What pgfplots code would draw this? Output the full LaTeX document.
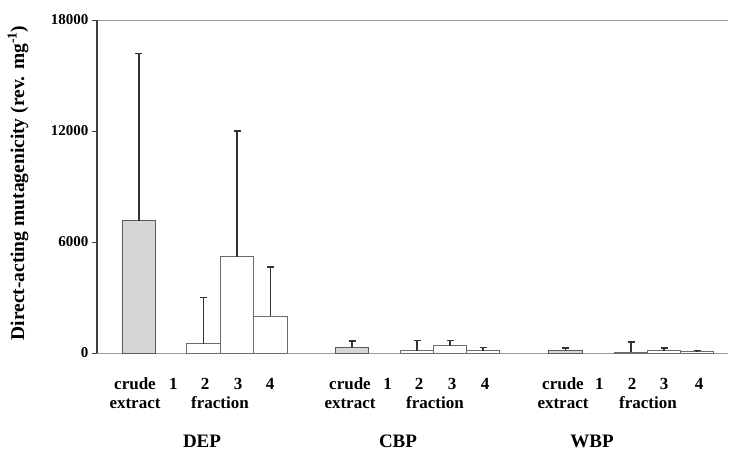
\documentclass[border=0pt]{standalone}
\usepackage{fontspec}
\setmainfont{Liberation Serif}
\usepackage{pgfplots}
\pgfplotsset{compat=1.18}
\usepackage{pgfplotstable}
\definecolor{edge}{gray}{0.35}
\definecolor{fedge}{gray}{0.42}
\definecolor{errc}{gray}{0.2}
\definecolor{crudefill}{gray}{0.84}
\definecolor{base}{gray}{0.6}

% crude extracts
\pgfplotstableread{
x y e
139 7150 9050
352 300 350
565.5 120 140
}\crudetab
% fractions 2,3,4 (fraction 1: 0)
\pgfplotstableread{
x y e
203.5 500 2500
237 5200 6800
270.5 2000 2650
417 130 550
450 400 280
483 110 180
631 40 560
664 110 150
697 60 70
}\fractab

\begin{document}
\begin{tikzpicture}
\begin{axis}[
  name=ax,
  scale only axis, width=631pt, height=333pt,
  xmin=97, xmax=728, ymin=0, ymax=18000,
  axis x line=box, axis y line=left, axis line style={-},
  x axis line style={base, line width=0.9pt},
  y axis line style={black!75, line width=1.3pt},
  ytick={0,6000,12000,18000},
  scaled y ticks=false,
  tick align=outside, ytick pos=left,
  major tick length=5pt,
  ytick style={black!75, line width=1pt},
  xtick={135,173.3,205,238,270,350,387.7,419,452,485,563,599.3,632,664,699},
  xticklabels={crude,1,2,3,4,crude,1,2,3,4,crude,1,2,3,4},
  xtick style={draw=none},
  xticklabel style={font=\fontsize{17}{17}\selectfont\bfseries, anchor=base, yshift=-31pt},
  yticklabel style={font=\fontsize{15}{15}\selectfont\bfseries},
  /pgf/number format/assume math mode=true,
  /pgf/number format/1000 sep={},
  clip=false,
]
\addplot[ybar, bar shift=0pt, bar width=33.4, fill=crudefill, draw=edge, line width=1pt,
  error bars/.cd, y dir=plus, y explicit,
  error bar style={errc, line width=1.7pt},
  error mark options={errc, line width=1.5pt, mark size=3.5pt, rotate=90}]
  table[x=x, y=y, y error=e]{\crudetab};
\addplot[ybar, bar shift=0pt, bar width=33.4, fill=white, draw=fedge, line width=1pt,
  error bars/.cd, y dir=plus, y explicit,
  error bar style={errc, line width=1.7pt},
  error mark options={errc, line width=1.5pt, mark size=3.5pt, rotate=90}]
  table[x=x, y=y, y error=e]{\fractab};

\node[anchor=base, font=\fontsize{17}{17}\selectfont\bfseries, inner sep=0pt] at ([yshift=-55pt]axis cs:135,0) {extract};
\node[anchor=base, font=\fontsize{17}{17}\selectfont\bfseries, inner sep=0pt] at ([yshift=-55pt]axis cs:220,0) {fraction};
\node[anchor=base, font=\fontsize{17}{17}\selectfont\bfseries, inner sep=0pt] at ([yshift=-55pt]axis cs:350,0) {extract};
\node[anchor=base, font=\fontsize{17}{17}\selectfont\bfseries, inner sep=0pt] at ([yshift=-55pt]axis cs:435,0) {fraction};
\node[anchor=base, font=\fontsize{17}{17}\selectfont\bfseries, inner sep=0pt] at ([yshift=-55pt]axis cs:563,0) {extract};
\node[anchor=base, font=\fontsize{17}{17}\selectfont\bfseries, inner sep=0pt] at ([yshift=-55pt]axis cs:648,0) {fraction};
\node[anchor=base, font=\fontsize{19}{19}\selectfont\bfseries, inner sep=0pt] at ([yshift=-94pt]axis cs:202,0) {DEP};
\node[anchor=base, font=\fontsize{19}{19}\selectfont\bfseries, inner sep=0pt] at ([yshift=-94pt]axis cs:398,0) {CBP};
\node[anchor=base, font=\fontsize{19}{19}\selectfont\bfseries, inner sep=0pt] at ([yshift=-94pt]axis cs:592,0) {WBP};
\node[rotate=90, font=\fontsize{19.5}{19.5}\selectfont\bfseries, inner sep=0pt]
  at ([xshift=-79pt]axis cs:97,9190) {Direct-acting mutagenicity (rev. mg\textsuperscript{-1})};
\end{axis}
\path ([xshift=-97pt,yshift=-97pt]ax.south west) rectangle ++(730pt,450pt);
\end{tikzpicture}
\end{document}
